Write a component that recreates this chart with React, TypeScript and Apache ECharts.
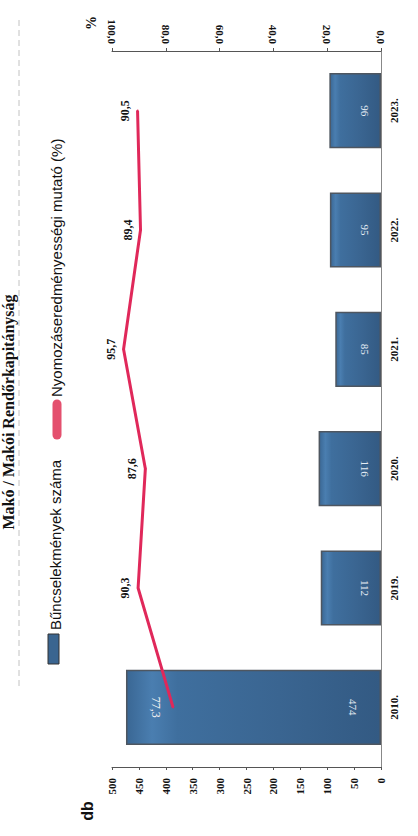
import React, { useEffect, useRef } from "react";
import * as echarts from "echarts";

const years = ["2010.", "2019.", "2020.", "2021.", "2022.", "2023."];
const crimes = [474, 112, 116, 85, 95, 96];
const rate = [77.3, 90.3, 87.6, 95.7, 89.4, 90.5];
const legendNames = ["Bűncselekmények száma", "Nyomozáseredményességi mutató (%)"];
const titleText = "Makó / Makói Rendőrkapitányság";

const SERIF = '"Liberation Serif", "DejaVu Serif", serif';
const SANS = '"Liberation Sans", Arial, sans-serif';
const fmtPct = (v: number) => v.toFixed(1).replace(".", ",");

export default function App() {
  const ref = useRef<HTMLDivElement>(null);
  useEffect(() => {
    if (!ref.current) return;
    const chart = echarts.init(ref.current, null, { renderer: "svg" });
    const barFill = new echarts.graphic.LinearGradient(0, 0, 1, 0, [
      { offset: 0, color: "#3a6794" },
      { offset: 0.1, color: "#4a7eb0" },
      { offset: 0.2, color: "#3f6f9e" },
      { offset: 0.6, color: "#3a6591" },
      { offset: 1, color: "#335a83" },
    ]);
    const option: any = {
      animation: false,
      backgroundColor: "#ffffff",
      grid: { left: 112, right: 37, top: 51, bottom: 69 },
      xAxis: [
        {
          type: "value",
          position: "bottom",
          inverse: true,
          min: 0,
          max: 500,
          interval: 50,
          axisLine: { show: true, lineStyle: { color: "#555", width: 1 } },
          axisTick: { show: true, length: 3, lineStyle: { color: "#555" } },
          splitLine: { show: false },
          axisLabel: {
            rotate: 90,
            margin: 11,
            fontFamily: SERIF,
            fontWeight: "bold",
            fontSize: 11,
            color: "#111",
          },
        },
        {
          type: "value",
          position: "top",
          inverse: true,
          min: 0,
          max: 100,
          interval: 20,
          axisLine: { show: true, lineStyle: { color: "#555", width: 1 } },
          axisTick: { show: true, length: 3, lineStyle: { color: "#555" } },
          splitLine: { show: false },
          axisLabel: {
            rotate: 90,
            margin: 7,
            fontFamily: SERIF,
            fontWeight: "bold",
            fontSize: 11,
            color: "#111",
            formatter: (v: number) => fmtPct(v),
          },
        },
      ],
      yAxis: {
        type: "category",
        data: years,
        position: "right",
        axisLine: { show: true, lineStyle: { color: "#888", width: 1 } },
        axisTick: { show: false },
        axisLabel: {
          rotate: 90,
          margin: 7,
          fontFamily: SERIF,
          fontWeight: "bold",
          fontSize: 11,
          color: "#111",
        },
      },
      series: [
        {
          name: legendNames[0],
          type: "bar",
          xAxisIndex: 0,
          yAxisIndex: 0,
          barWidth: "63%",
          data: crimes.map((v, i) =>
            i === 0 ? { value: v, label: { distance: 23 } } : { value: v }
          ),
          itemStyle: { color: barFill, borderColor: "#4e5660", borderWidth: 1.5 },
          label: {
            show: true,
            position: "insideRight",
            rotate: -90,
            align: "center",
            verticalAlign: "top",
            distance: 11,
            color: "#e6edf5",
            fontFamily: SERIF,
            fontSize: 11,
          },
        },
        {
          name: legendNames[1],
          type: "line",
          xAxisIndex: 1,
          yAxisIndex: 0,
          symbol: "circle",
          symbolSize: 2,
          itemStyle: { color: "#e0285a" },
          lineStyle: { color: "#e0285a", width: 3 },
          data: rate.map((v, i) =>
            i === 0
              ? {
                  value: v,
                  label: {
                    rotate: -90,
                    verticalAlign: "top",
                    distance: 10,
                    color: "#f2f2f2",
                    fontWeight: "normal",
                  },
                }
              : { value: v }
          ),
          label: {
            show: true,
            position: "left",
            distance: 6,
            rotate: 90,
            align: "center",
            verticalAlign: "bottom",
            fontFamily: SERIF,
            fontWeight: "bold",
            fontSize: 12,
            color: "#111",
            formatter: (p: any) => fmtPct(Number(p.value)),
          },
        },
      ],
      graphic: [
        {
          type: "line",
          shape: { x1: 19, y1: 20, x2: 19, y2: 690 },
          style: { stroke: "#999", lineWidth: 1, lineDash: [6, 4], opacity: 0.6 },
        },
        {
          type: "text",
          x: 8,
          y: 412,
          rotation: Math.PI / 2,
          style: {
            text: titleText,
            font: `bold 16px ${SERIF}`,
            align: "center",
            verticalAlign: "middle",
            fill: "#111",
          },
        },
        {
          type: "rect",
          shape: { x: 48, y: 634, width: 11, height: 30 },
          style: { fill: "#3a6590", stroke: "#333", lineWidth: 1 },
        },
        {
          type: "text",
          x: 55,
          y: 630,
          rotation: Math.PI / 2,
          style: {
            text: legendNames[0],
            font: `15px ${SANS}`,
            align: "left",
            verticalAlign: "middle",
            fill: "#111",
          },
        },
        {
          type: "line",
          shape: { x1: 57, y1: 404, x2: 57, y2: 435 },
          style: { stroke: "#e4506e", lineWidth: 9, lineCap: "round" },
        },
        {
          type: "text",
          x: 56,
          y: 397,
          rotation: Math.PI / 2,
          style: {
            text: legendNames[1],
            font: `15px ${SANS}`,
            align: "left",
            verticalAlign: "middle",
            fill: "#111",
          },
        },
        {
          type: "text",
          x: 91,
          y: 23,
          rotation: Math.PI / 2,
          style: {
            text: "%",
            font: `bold 14px ${SERIF}`,
            align: "center",
            verticalAlign: "middle",
            fill: "#111",
          },
        },
        {
          type: "text",
          x: 87,
          y: 811,
          rotation: Math.PI / 2,
          style: {
            text: "db",
            font: `bold 16px ${SANS}`,
            align: "center",
            verticalAlign: "middle",
            fill: "#111",
          },
        },
      ],
    };
    chart.setOption(option);
    return () => chart.dispose();
  }, []);
  return (
    <div
      ref={ref}
      style={{ position: "absolute", left: 0, top: 0, width: 418, height: 836 }}
    />
  );
}
